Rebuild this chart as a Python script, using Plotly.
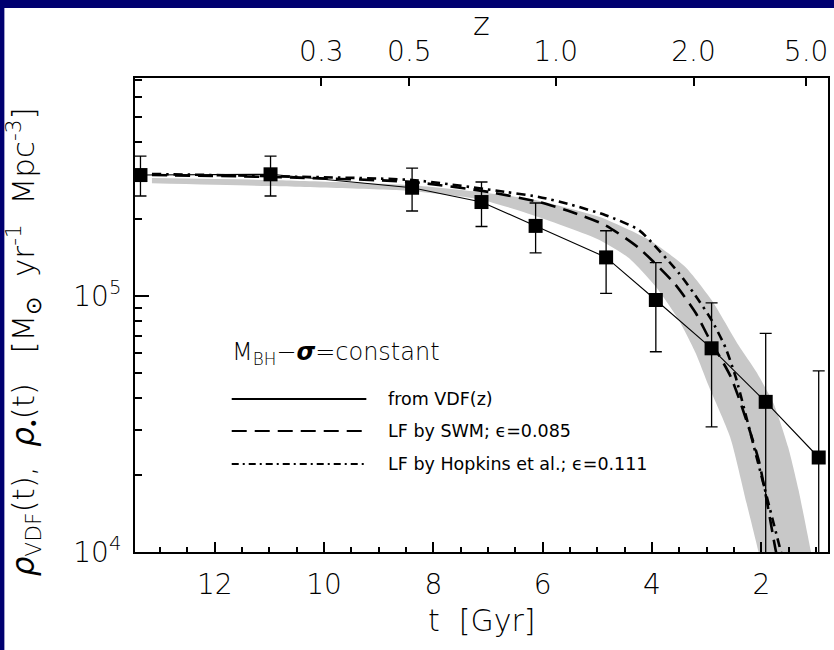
import plotly.graph_objects as go

# ---------------- data ----------------
# VDF points: cosmic time t [Gyr], rate, error-bar upper / lower bounds
vdf_t = [13.36, 10.98, 8.39, 7.12, 6.13, 4.84, 3.93, 2.91, 1.92, 0.95]
vdf_rho = [2.97e5, 2.99e5, 2.65e5, 2.33e5, 1.88e5, 1.416e5, 9.65e4, 6.25e4, 3.86e4, 2.34e4]
vdf_hi = [3.52e5, 3.52e5, 3.16e5, 2.79e5, 2.31e5, 1.80e5, 1.35e5, 9.41e4, 7.15e4, 5.10e4]
vdf_lo = [2.46e5, 2.46e5, 2.15e5, 1.87e5, 1.476e5, 1.025e5, 6.06e4, 3.08e4, 5.0e3, 9.9e3]

# grey band (upper and lower edges)
band_up_t = [13.15, 11.00, 8.39, 7.16, 6.12, 4.97, 4.06, 3.39, 2.91, 2.42, 2.09, 1.78, 1.51, 1.32, 1.09, 1.04]
band_up_v = [2.89e5, 2.84e5, 2.71e5, 2.55e5, 2.37e5, 2.04e5, 1.66e5, 1.30e5, 9.65e4, 6.44e4, 5.05e4, 3.82e4, 2.57e4, 1.75e4, 1.0e4, 8.9e3]
band_lo_t = [13.15, 11.00, 8.39, 7.16, 6.12, 4.97, 4.43, 3.92, 3.51, 3.20, 2.97, 2.57, 2.27, 2.05, 2.00]
band_lo_v = [2.76e5, 2.69e5, 2.57e5, 2.39e5, 2.05e5, 1.66e5, 1.41e5, 1.08e5, 8.06e4, 5.98e4, 4.49e4, 2.81e4, 1.55e4, 1.0e4, 8.9e3]

# LF by SWM (dashed)
swm_t = [13.15, 11.00, 8.39, 6.98, 6.07, 5.47, 4.85, 4.24, 3.59, 3.20, 2.97, 2.55, 2.05, 1.73, 1.69]
swm_v = [2.97e5, 2.92e5, 2.79e5, 2.55e5, 2.33e5, 2.13e5, 1.89e5, 1.54e5, 1.12e5, 8.59e4, 6.92e4, 4.79e4, 2.29e4, 1.0e4, 9.3e3]

# LF by Hopkins et al. (dash-dot)
hop_t = [13.15, 11.00, 8.39, 6.67, 6.07, 5.47, 4.85, 4.24, 3.51, 3.15, 2.91, 2.66, 2.47, 2.05, 1.64, 1.60]
hop_v = [3.00e5, 2.94e5, 2.84e5, 2.55e5, 2.44e5, 2.27e5, 2.07e5, 1.81e5, 1.23e5, 9.65e4, 8.06e4, 6.32e4, 4.83e4, 2.19e4, 1.0e4, 9.3e3]

# axes
t_ticks = [12, 10, 8, 6, 4, 2]
z_labels = ["0.3", "0.5", "1.0", "2.0", "5.0"]
z_tick_t = [10.05, 8.44, 5.76, 3.24, 1.18]
y_tickvals = [1e4, 1e5]
y_ticktext = ["10<sup>4</sup>", "10<sup>5</sup>"]
y_minor = [2e4, 3e4, 4e4, 5e4, 6e4, 7e4, 8e4, 9e4, 2e5, 3e5, 4e5, 5e5, 6e5, 7e5]

t_range = [13.46, 0.78]
logy_range = [4.0, 5.852]

FONT = "DejaVu Sans"
NAVY = "#000070"

fig = go.Figure()

# grey band
fig.add_trace(go.Scatter(x=band_up_t + band_lo_t[::-1], y=band_up_v + band_lo_v[::-1],
                         fill="toself", fillcolor="#c8c8c8",
                         line=dict(width=0, shape="spline", smoothing=0.6),
                         mode="lines", hoverinfo="skip", showlegend=False))
# dashed SWM
fig.add_trace(go.Scatter(x=swm_t, y=swm_v, mode="lines",
                         line=dict(color="black", width=2.6, dash="15px,8px",
                                   shape="spline", smoothing=0.6),
                         showlegend=False))
# dash-dot Hopkins
fig.add_trace(go.Scatter(x=hop_t, y=hop_v, mode="lines",
                         line=dict(color="black", width=2.6, dash="9px,5px,2.5px,5px",
                                   shape="spline", smoothing=0.6),
                         showlegend=False))
# VDF points
err_plus = [h - v for h, v in zip(vdf_hi, vdf_rho)]
err_minus = [v - l for v, l in zip(vdf_rho, vdf_lo)]
fig.add_trace(go.Scatter(x=vdf_t, y=vdf_rho, mode="lines+markers",
                         line=dict(color="black", width=1.1),
                         marker=dict(symbol="square", size=14, color="black"),
                         error_y=dict(type="data", array=err_plus, arrayminus=err_minus,
                                      color="black", thickness=1.3, width=6),
                         showlegend=False))
# invisible trace to anchor the top z axis
fig.add_trace(go.Scatter(x=z_tick_t, y=[1e5] * len(z_tick_t), xaxis="x2", mode="markers",
                         marker=dict(opacity=0), hoverinfo="skip", showlegend=False))

tickfont = dict(family=FONT, size=28, color="black", weight=200)

fig.update_layout(
    width=834, height=650,
    margin=dict(l=135, r=4, t=78, b=98),
    paper_bgcolor="white", plot_bgcolor="white",
    xaxis=dict(range=t_range, tickvals=t_ticks, ticks="inside", ticklen=10, tickwidth=1.5,
               tickcolor="black", showline=True, linecolor="black", linewidth=2,
               mirror=False, showgrid=False, zeroline=False, tickfont=tickfont,
               ticklabelstandoff=6,
               minor=dict(dtick=0.5, tick0=0, ticks="inside", ticklen=5, tickwidth=1.5,
                          tickcolor="black", showgrid=False)),
    xaxis2=dict(range=t_range, overlaying="x", side="top", tickvals=z_tick_t,
                ticktext=z_labels, ticks="inside", ticklen=8, tickwidth=1.5,
                tickcolor="black", showline=True, linecolor="black", linewidth=2,
                showgrid=False, zeroline=False, tickfont=tickfont, ticklabelstandoff=4),
    yaxis=dict(type="log", range=logy_range, tickvals=y_tickvals, ticktext=y_ticktext,
               ticks="inside", ticklen=14, tickwidth=1.5, tickcolor="black",
               showline=True, linecolor="black", linewidth=2, mirror=True,
               showgrid=False, zeroline=False, tickfont=tickfont, ticklabelstandoff=6,
               minor=dict(tickmode="array", tickvals=y_minor, ticks="inside", ticklen=7,
                          tickwidth=1.5, tickcolor="black", showgrid=False)),
)

W, H = 695.0, 474.0
def px(x):
    return (x - 135) / W
def py(y):
    return (552 - y) / H

# navy slide border (top and left strips)
fig.add_shape(type="rect", xref="paper", yref="paper", x0=px(-10), x1=px(844),
              y0=py(8), y1=py(-10), fillcolor=NAVY, line=dict(width=0), layer="below")
fig.add_shape(type="rect", xref="paper", yref="paper", x0=px(-10), x1=px(4),
              y0=py(660), y1=py(-10), fillcolor=NAVY, line=dict(width=0), layer="below")

# titles
fig.add_annotation(text="t  [Gyr]", xref="paper", yref="paper", x=0.5, y=py(620),
                   showarrow=False, xanchor="center", yanchor="middle",
                   font=dict(family=FONT, size=30, color="black", weight=200))
fig.add_annotation(text="z", xref="paper", yref="paper", x=0.5, y=py(24),
                   showarrow=False, xanchor="center", yanchor="middle",
                   font=dict(family=FONT, size=32, color="black", weight=200))
fig.add_annotation(text="<i>ρ</i><sub>VDF</sub>(t),  <i>ρ</i><sub>•</sub>(t)   [M<sub>⊙</sub>  yr<sup>-1</sup>  Mpc<sup>-3</sup>]",
                   xref="paper", yref="paper", x=px(23), y=py(342), textangle=-90,
                   showarrow=False, xanchor="center", yanchor="middle",
                   font=dict(family=FONT, size=31, color="black", weight=200))

# legend block
fig.add_annotation(text="M<sub>BH</sub>−<b><i>σ</i></b>=constant", xref="paper", yref="paper",
                   x=px(230), y=py(353), showarrow=False, xanchor="left", yanchor="middle",
                   font=dict(family=FONT, size=24, color="black", weight=200))
leg = [("from VDF(z)", "solid", 399),
       ("LF by SWM; ϵ=0.085", "15px,8px", 431),
       ("LF by Hopkins et al.; ϵ=0.111", "7px,4px,2px,4px", 464)]
for label, dash, yy in leg:
    fig.add_shape(type="line", xref="paper", yref="paper", x0=px(232), x1=px(367),
                  y0=py(yy), y1=py(yy), line=dict(color="black", width=2, dash=dash))
    fig.add_annotation(text=label, xref="paper", yref="paper", x=px(387), y=py(yy),
                       showarrow=False, xanchor="left", yanchor="middle",
                       font=dict(family=FONT, size=17.5, color="black"))

fig.write_html("out.html")
